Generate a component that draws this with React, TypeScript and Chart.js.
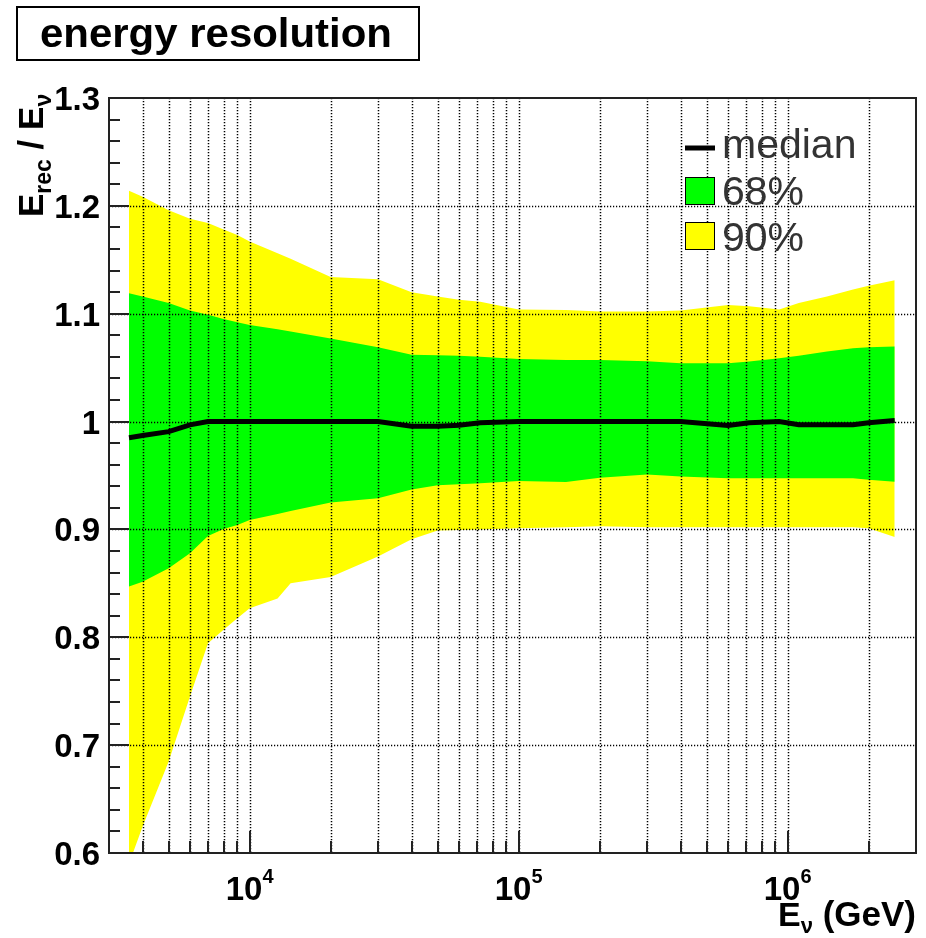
import React, { useEffect, useRef } from "react";
import { Chart, registerables } from "chart.js";

Chart.register(...registerables);

// Neutrino energy (GeV) at which the resolution bands are sampled
const energies = [
  3560, 4000, 5000, 6000, 7000, 8000, 9000, 10000, 12700, 14200, 20000, 30000,
  40000, 50000, 60000, 72000, 100000, 150000, 200000, 300000, 400000, 600000,
  720000, 930000, 1100000, 1400000, 1750000, 2000000, 2500000,
];

// E_rec / E_nu quantile bands
const upper90 = [
  1.214, 1.2085, 1.196, 1.188, 1.184, 1.178, 1.173, 1.167, 1.156, 1.151, 1.134, 1.132,
  1.12, 1.116, 1.113, 1.111, 1.104, 1.1035, 1.102, 1.102, 1.103, 1.108,
  1.107, 1.104, 1.11, 1.116, 1.1225, 1.126, 1.131,
];
const upper68 = [
  1.119, 1.116, 1.11, 1.103, 1.099, 1.095, 1.092, 1.0896, 1.0856, 1.0834, 1.077, 1.069,
  1.062, 1.0615, 1.061, 1.06, 1.058, 1.057, 1.057, 1.056, 1.054, 1.054,
  1.0556, 1.0587, 1.061, 1.065, 1.068, 1.069, 1.0695,
];
const median = [
  0.985, 0.987, 0.9907, 0.9969, 1.0, 1.0, 1.0, 1.0, 1.0, 1.0, 1.0, 1.0,
  0.9957, 0.9957, 0.9965, 0.999, 1.0, 1.0, 1.0, 1.0, 1.0, 0.9963,
  0.9988, 1.0, 0.997, 0.997, 0.997, 0.999, 1.001,
];
const lower68 = [
  0.847, 0.8516, 0.864, 0.878, 0.894, 0.9005, 0.904, 0.9088, 0.9143, 0.917, 0.925, 0.929,
  0.937, 0.941, 0.942, 0.9428, 0.945, 0.944, 0.948, 0.951, 0.949, 0.9475,
  0.9475, 0.9475, 0.9475, 0.9475, 0.9475, 0.946, 0.9443,
];
const lower90 = [
  0.59, 0.6245, 0.6848, 0.745, 0.7945, 0.807, 0.8177, 0.827, 0.836, 0.85, 0.856, 0.8748,
  0.891, 0.899, 0.8995, 0.9, 0.901, 0.902, 0.903, 0.902, 0.902, 0.902,
  0.902, 0.902, 0.902, 0.902, 0.902, 0.901, 0.893,
];

// Axis ranges and labels
const xRange = [3000, 3000000];
const yRange = [0.6, 1.3];
const yTickLabels = ["0.6", "0.7", "0.8", "0.9", "1", "1.1", "1.2", "1.3"];
const xDecadeExponents = [4, 5, 6];
const legendLabels = ["median", "68%", "90%"];
const titleText = "energy resolution";

const YELLOW = "#ffff00";
const GREEN = "#00ff00";
const SANS = '"Liberation Sans", Arial, Helvetica, sans-serif';

type Part = { text: string; font: string; dy?: number };

function drawRich(ctx: CanvasRenderingContext2D, parts: Part[], x: number, y: number, align: "left" | "right" | "center") {
  const widths = parts.map((p) => {
    ctx.font = p.font;
    return ctx.measureText(p.text).width;
  });
  const total = widths.reduce((a, b) => a + b, 0);
  let cx = align === "left" ? x : align === "right" ? x - total : x - total / 2;
  ctx.textAlign = "left";
  ctx.textBaseline = "alphabetic";
  parts.forEach((p, i) => {
    ctx.font = p.font;
    ctx.fillText(p.text, cx, y + (p.dy || 0));
    cx += widths[i];
  });
}

const pts = (vals: number[]) => vals.map((v, i) => ({ x: energies[i], y: v }));

// ROOT-like frame: dotted grid, inward ticks, labels, titles, legend and title box
const rootStyle = {
  id: "rootStyle",
  afterDatasetsDraw(chart: any) {
    const { ctx, chartArea: a } = chart;
    const xs = chart.scales.x;
    const ys = chart.scales.y;
    ctx.save();

    // vertical grid at every 1..9 x 10^n inside the range
    const xGrid: number[] = [];
    for (let n = 3; n <= 6; n++) {
      for (let k = 1; k <= 9; k++) {
        const v = k * Math.pow(10, n);
        if (v > xRange[0] * 1.0001 && v < xRange[1] * 0.9999) xGrid.push(v);
      }
    }
    ctx.strokeStyle = "#000";
    ctx.lineWidth = 1.5;
    ctx.setLineDash([1.2, 1.8]);
    xGrid.forEach((v) => {
      const px = Math.round(xs.getPixelForValue(v)) + 0.5;
      ctx.beginPath();
      ctx.moveTo(px, a.top);
      ctx.lineTo(px, a.bottom);
      ctx.stroke();
    });
    yTickLabels.forEach((t) => {
      const v = parseFloat(t);
      if (v <= yRange[0] || v >= yRange[1]) return;
      const py = Math.round(ys.getPixelForValue(v)) + 0.5;
      ctx.beginPath();
      ctx.moveTo(a.left, py);
      ctx.lineTo(a.right, py);
      ctx.stroke();
    });
    ctx.setLineDash([]);

    // ticks
    ctx.strokeStyle = "#222";
    ctx.lineWidth = 2;
    xGrid.forEach((v) => {
      const px = Math.round(xs.getPixelForValue(v));
      const major = Math.abs(Math.log10(v) - Math.round(Math.log10(v))) < 1e-6;
      ctx.beginPath();
      ctx.moveTo(px, a.bottom);
      ctx.lineTo(px, a.bottom - (major ? 22 : 12));
      ctx.stroke();
    });
    for (let i = 0; i <= 35; i++) {
      const v = yRange[0] + i * 0.02;
      const py = Math.round(ys.getPixelForValue(v));
      const major = i % 5 === 0;
      ctx.beginPath();
      ctx.moveTo(a.left, py);
      ctx.lineTo(a.left + (major ? 20 : 11), py);
      ctx.stroke();
    }

    // frame
    ctx.strokeRect(a.left, a.top, a.right - a.left, a.bottom - a.top);

    // y tick labels
    ctx.fillStyle = "#000";
    ctx.font = `bold 33px ${SANS}`;
    ctx.textAlign = "right";
    ctx.textBaseline = "alphabetic";
    yTickLabels.forEach((t) => {
      const py = ys.getPixelForValue(parseFloat(t));
      ctx.fillText(t, a.left - 9, py + 12);
    });

    // x tick labels 10^n
    xDecadeExponents.forEach((e) => {
      const px = xs.getPixelForValue(Math.pow(10, e));
      drawRich(
        ctx,
        [
          { text: "10", font: `bold 33px ${SANS}` },
          { text: String(e), font: `bold 20px ${SANS}`, dy: -17 },
        ],
        px,
        a.bottom + 47,
        "center"
      );
    });

    // x axis title
    drawRich(
      ctx,
      [
        { text: "E", font: `bold 34px ${SANS}` },
        { text: "ν", font: `bold 22px ${SANS}`, dy: 7 },
        { text: " (GeV)", font: `bold 35px ${SANS}` },
      ],
      a.right,
      a.bottom + 73,
      "right"
    );

    // y axis title, rotated
    ctx.save();
    ctx.translate(43, 217);
    ctx.rotate(-Math.PI / 2);
    drawRich(
      ctx,
      [
        { text: "E", font: `bold 35px ${SANS}` },
        { text: "rec", font: `bold 23px ${SANS}`, dy: 8 },
        { text: " / ", font: `bold 35px ${SANS}` },
        { text: "E", font: `bold 35px ${SANS}` },
        { text: "ν", font: `bold 23px ${SANS}`, dy: 8 },
      ],
      0,
      0,
      "left"
    );
    ctx.restore();

    ctx.restore();
  },
  afterDraw(chart: any) {
    const { ctx } = chart;
    ctx.save();

    // legend
    const lx = 685;
    const lw = 29;
    const textX = 722;
    ctx.strokeStyle = "#000";
    ctx.lineWidth = 5;
    ctx.beginPath();
    ctx.moveTo(lx, 148);
    ctx.lineTo(lx + 30, 148);
    ctx.stroke();

    ctx.lineWidth = 1;
    ctx.fillStyle = GREEN;
    ctx.fillRect(lx, 177, lw, 27);
    ctx.strokeRect(lx + 0.5, 177.5, lw, 27);
    ctx.fillStyle = YELLOW;
    ctx.fillRect(lx, 222, lw, 27);
    ctx.strokeRect(lx + 0.5, 222.5, lw, 27);

    ctx.fillStyle = "#333";
    ctx.font = `41px ${SANS}`;
    ctx.textAlign = "left";
    ctx.textBaseline = "alphabetic";
    ctx.fillText(legendLabels[0], textX, 158);
    ctx.fillText(legendLabels[1], textX, 205);
    ctx.fillText(legendLabels[2], textX, 251);

    // title box
    ctx.fillStyle = "#fff";
    ctx.fillRect(17, 7, 402, 53);
    ctx.strokeStyle = "#000";
    ctx.lineWidth = 2;
    ctx.strokeRect(17, 7, 402, 53);
    ctx.fillStyle = "#000";
    ctx.font = `bold 40px ${SANS}`;
    const w = ctx.measureText(titleText).width;
    ctx.save();
    ctx.translate(40, 47);
    ctx.scale(352 / w, 1);
    ctx.fillText(titleText, 0, 0);
    ctx.restore();

    ctx.restore();
  },
};

export default function App() {
  const canvasRef = useRef<HTMLCanvasElement | null>(null);

  useEffect(() => {
    const canvas = canvasRef.current;
    if (!canvas) return;
    const band = (data: number[], fill: any, color: string, order: number) => ({
      data: pts(data),
      fill,
      backgroundColor: color,
      borderColor: "rgba(0,0,0,0)",
      borderWidth: 1,
      pointRadius: 0,
      tension: 0,
      order,
    });
    const chart = new Chart(canvas, {
      type: "line",
      data: {
        datasets: [
          { label: "90% upper", ...band(upper90, "+1", YELLOW, 3) },
          { label: "90% lower", ...band(lower90, false, YELLOW, 4) },
          { label: "68% upper", ...band(upper68, "+1", GREEN, 1) },
          { label: "68% lower", ...band(lower68, false, GREEN, 2) },
          {
            label: "median",
            data: pts(median),
            fill: false,
            borderColor: "#000",
            borderWidth: 5,
            pointRadius: 0,
            tension: 0,
            order: 0,
          },
        ],
      },
      options: {
        animation: false,
        responsive: false,
        maintainAspectRatio: false,
        layout: { padding: { left: 109, right: 10, top: 98, bottom: 85 } },
        scales: {
          x: { type: "logarithmic", min: xRange[0], max: xRange[1], display: false },
          y: { type: "linear", min: yRange[0], max: yRange[1], display: false },
        },
        plugins: {
          legend: { display: false },
          tooltip: { enabled: false },
          title: { display: false },
        },
        events: [],
      },
      plugins: [rootStyle],
    } as any);
    return () => chart.destroy();
  }, []);

  return (
    <div style={{ position: "fixed", left: 0, top: 0, width: 926, height: 938, background: "#fff" }}>
      <canvas ref={canvasRef} width={926} height={938} style={{ display: "block", width: 926, height: 938 }} />
    </div>
  );
}
